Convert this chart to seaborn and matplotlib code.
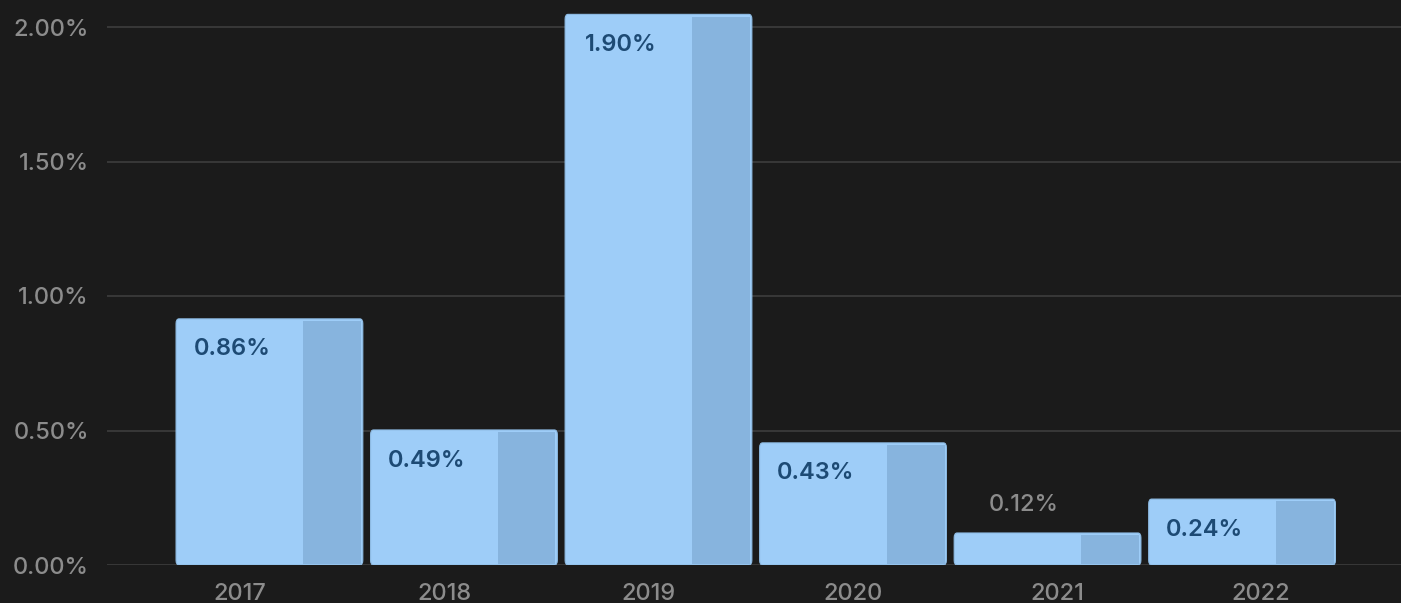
import matplotlib
matplotlib.use("Agg")
import matplotlib.pyplot as plt
import seaborn as sns
import pandas as pd
from matplotlib.patches import FancyBboxPatch, Rectangle

years = ["2017", "2018", "2019", "2020", "2021", "2022"]
bar_heights = [0.915, 0.502, 2.047, 0.454, 0.119, 0.245]
value_labels = ["0.86%", "0.49%", "1.90%", "0.43%", "0.12%", "0.24%"]
label_inside = [True, True, True, True, False, True]
y_ticks = [0.0, 0.5, 1.0, 1.5, 2.0]
y_tick_labels = ["0.00%", "0.50%", "1.00%", "1.50%", "2.00%"]

BG = "#1b1b1b"
LIGHT = "#9ecdf8"
DARK = "#87b4de"
GRID = "#3d3d3d"
TXT = "#8c8c8c"
NAVY = "#1d4a74"

sns.set_theme(style="dark")
plt.rcParams["font.family"] = ["Inter", "DejaVu Sans"]

df = pd.DataFrame({"year": years, "value": bar_heights})

fig = plt.figure(figsize=(14.01, 6.03), dpi=100, facecolor=BG)
ax = fig.add_axes([107 / 1401, 38 / 603, 1294 / 1401, 565 / 603])
ax.set_facecolor(BG)

sns.barplot(data=df, x="year", y="value", color=LIGHT, width=0.96,
            saturation=1, ax=ax, zorder=3)

ax.set_xlim(-0.835, 5.817)
ax.set_ylim(0, 565 / 269)

# darker side portion and label per bar
for i, p in enumerate(ax.patches[:len(years)]):
    x0, w, h = p.get_x(), p.get_width(), p.get_height()
    p.set_visible(False)
    front = FancyBboxPatch((x0, 0), w, h, boxstyle="round,pad=0,rounding_size=0.015",
                           mutation_aspect=1.2, facecolor=LIGHT, edgecolor="#8fbde6",
                           linewidth=0.8, zorder=3)
    ax.add_patch(front)
    side = Rectangle((x0 + 0.68 * w, 0.004), 0.31 * w, h - 0.012, facecolor=DARK,
                     edgecolor="none", zorder=4)
    ax.add_patch(side)
    cx = x0 + 0.30 * w
    if label_inside[i]:
        ax.annotate(value_labels[i], (cx, h), xytext=(0, -22), textcoords="offset points",
                    ha="center", va="center", fontsize=17, color=NAVY,
                    fontweight="semibold", zorder=6)
    else:
        ax.annotate(value_labels[i], (cx + 0.07, h), xytext=(0, 20), textcoords="offset points",
                    ha="center", va="center", fontsize=17, color=TXT,
                    fontweight="medium", zorder=6)

ax.set_yticks(y_ticks)
ax.set_yticklabels(y_tick_labels, fontweight="medium")
tick_pos = [-0.152 + 1.05 * i for i in range(len(years))]
ax.set_xticks(tick_pos)
ax.set_xticklabels(years, fontweight="medium")

ax.grid(axis="y", color=GRID, linewidth=1.2, zorder=0)
ax.grid(axis="x", visible=False)
ax.set_axisbelow(True)
ax.tick_params(axis="both", length=0, labelsize=17, colors=TXT)
ax.tick_params(axis="y", pad=13)
ax.tick_params(axis="x", pad=13)
for s in ax.spines.values():
    s.set_visible(False)
ax.set_xlabel("")
ax.set_ylabel("")

fig.savefig("out.png", dpi=100, facecolor=BG)
